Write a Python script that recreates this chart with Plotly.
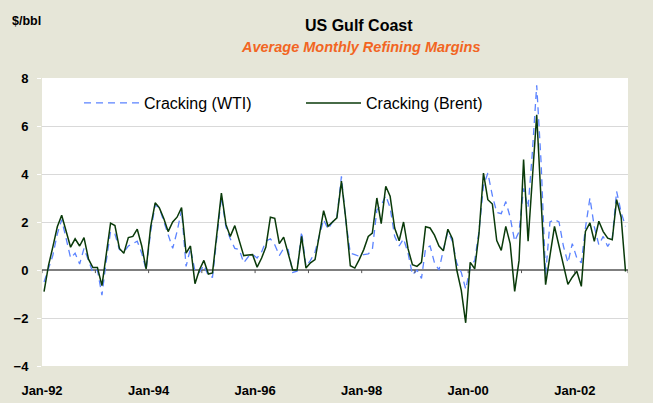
import plotly.graph_objects as go
import pandas as pd

# Monthly dates (mid-month), Jan-92 .. Dec-02
months = pd.date_range("1992-01-01", periods=132, freq="MS") + pd.Timedelta(days=14)

wti = [
    -0.5, 0.1, 0.6, 1.5, 2.1, 1.3, 0.5, 0.7, 0.25, 0.9, 0.35, -0.1,
    0.0, -1.05, 0.3, 1.6, 1.5, 0.85, 0.75, 1.0, 1.1, 1.2, 0.7, 0.0,
    1.6, 2.7, 2.6, 2.0, 1.4, 0.9, 1.6, 2.5, 0.15, 0.9, -0.05, -0.1,
    0.2, -0.25, -0.3, 1.4, 3.05, 1.8, 1.3, 0.9, 0.85, 0.3, 0.55, 0.65,
    0.5, 0.75, 1.2, 1.3, 1.05, 0.6, 0.9, 0.85, -0.1, -0.05, 1.6, 0.15,
    0.4, 0.75, 1.4, 2.1, 1.7, 2.0, 2.2, 3.9, 2.0, 0.7, 0.64, 0.57,
    0.64, 0.67, 0.85, 2.5, 2.7, 3.1, 2.6, 1.4, 1.0, 1.3, 0.7, -0.2,
    0.0, -0.35, 0.9, 1.0, 0.3, 0.0, 0.85, 1.6, 1.2, 0.28, -0.1, -0.8,
    0.1, 0.4, 1.6, 3.5, 4.04, 3.1, 2.4, 2.35, 2.85, 2.2, 1.2, 1.6,
    3.4, 2.6, 4.8, 7.7, 4.5, -0.2, 2.0, 2.1, 2.0, 1.0, 0.3, 1.1,
    0.5, 0.3, 1.75, 3.0, 1.8, 1.05, 1.4, 0.98, 1.3, 3.28, 2.4, 1.82,
]

brent = [
    -0.9, 0.2, 0.95, 1.8, 2.28, 1.55, 0.95, 1.3, 1.0, 1.35, 0.45, 0.1,
    0.1, -0.65, 0.6, 1.95, 1.85, 0.9, 0.7, 1.35, 1.4, 1.7, 1.0, 0.04,
    1.8, 2.8, 2.6, 2.15, 1.6, 2.0, 2.2, 2.6, 0.7, 1.0, -0.57, 0.0,
    0.4, -0.17, -0.12, 1.7, 3.2, 1.9, 1.4, 1.85, 1.25, 0.6, 0.62, 0.64,
    0.12, 0.5, 0.96, 2.2, 2.15, 1.1, 1.37, 0.68, 0.0, 0.0, 1.4, 0.08,
    0.3, 0.43, 1.47, 2.47, 1.82, 2.0, 2.17, 3.7, 2.07, 0.18, 0.08, 0.43,
    0.85, 1.4, 1.54, 3.0, 1.93, 3.49, 3.07, 1.75, 1.22, 2.0, 0.88, 0.22,
    0.15, 0.32, 1.8, 1.75, 1.45, 1.0, 0.8, 1.7, 1.3, 0.0, -0.85, -2.2,
    0.32, 0.05, 1.5, 4.04, 2.93, 2.75, 1.23, 0.82, 1.82, 1.1, -0.89, 0.4,
    4.6, 1.2, 3.9, 6.47, 2.9, -0.61, 0.6, 1.82, 1.0, 0.2, -0.6, -0.3,
    -0.05, -0.68, 1.61, 1.96, 1.19, 2.03, 1.6, 1.33, 1.26, 2.93, 2.2, -0.06,
]

tick_dates = ["1992-01-01", "1994-01-01", "1996-01-01", "1998-01-01", "2000-01-01", "2002-01-01"]
tick_labels = ["Jan-92", "Jan-94", "Jan-96", "Jan-98", "Jan-00", "Jan-02"]
year_ticks = [f"{y}-01-01" for y in range(1992, 2004)]

BG = "#E6E6D8"
FONT = "Liberation Sans, Arial, sans-serif"

W, H = 653, 403
ML, MR, MT, MB = 42, 25, 78, 37
PW, PH = W - ML - MR, H - MT - MB


def px_to_paper(xp, yp):
    return (xp - ML) / PW, (H - MB - yp) / PH


fig = go.Figure()
fig.add_trace(go.Scatter(
    x=months, y=wti, mode="lines", name="Cracking (WTI)",
    line=dict(color="#5B83FF", width=1.3, dash="7px,5px"),
))
fig.add_trace(go.Scatter(
    x=months, y=brent, mode="lines", name="Cracking (Brent)",
    line=dict(color="#0A3A0A", width=1.5),
))

shapes = []
for d in year_ticks:
    shapes.append(dict(type="line", xref="x", yref="y", x0=d, x1=d, y0=0, y1=-0.13,
                       line=dict(color="#555555", width=1)))

tx, ty = px_to_paper(359, 26)
sx, sy = px_to_paper(360, 47)
ux, uy = px_to_paper(26, 21)
lx, ly = px_to_paper(79, 103)

fig.update_layout(
    width=W, height=H,
    paper_bgcolor=BG, plot_bgcolor="white",
    margin=dict(l=ML, r=MR, t=MT, b=MB, autoexpand=False),
    font=dict(family=FONT, color="black"),
    showlegend=True,
    legend=dict(
        orientation="h", x=lx, y=ly, xanchor="left", yanchor="middle",
        font=dict(size=16, family=FONT, color="black"),
        bgcolor="rgba(255,255,255,0)", itemwidth=55, entrywidth=152,
    ),
    shapes=shapes,
    annotations=[
        dict(text="<b>US Gulf Coast</b>", x=tx, y=ty, xref="paper", yref="paper",
             xanchor="center", yanchor="middle",
             showarrow=False, font=dict(size=16, family=FONT)),
        dict(text="<b><i>Average Monthly Refining Margins</i></b>", x=sx, y=sy,
             xref="paper", yref="paper", xanchor="center", yanchor="middle",
             showarrow=False, font=dict(size=14.5, family=FONT, color="#F26522")),
        dict(text="<b>$/bbl</b>", x=ux, y=uy, xref="paper", yref="paper",
             xanchor="center", yanchor="middle",
             showarrow=False, font=dict(size=12.5, family=FONT)),
    ],
)

fig.update_xaxes(
    type="date", range=["1992-01-01", "2003-01-01"],
    tickvals=tick_dates, ticktext=tick_labels,
    showgrid=False, zeroline=False, showline=False, ticks="",
    tickfont=dict(size=13, family=FONT, color="black", weight="bold"),
    ticklabelstandoff=15, automargin=False,
)
fig.update_yaxes(
    range=[-4, 8], tickvals=[-4, -2, 0, 2, 4, 6, 8],
    showgrid=True, gridcolor="#D9D9D9", gridwidth=1,
    zeroline=True, zerolinecolor="#7F7F7F", zerolinewidth=2,
    ticks="outside", ticklen=4, tickcolor="white",
    tickfont=dict(size=13, family=FONT, color="black", weight="bold"),
    ticklabelstandoff=6, showline=False, automargin=False,
)

fig.write_html("out.html", config={"displayModeBar": False})

# remove the default page margin so the figure sits at the window origin
with open("out.html", "r", encoding="utf-8") as f:
    html = f.read()
html = html.replace("<head>", "<head><style>html,body{margin:0;padding:0;overflow:hidden;}</style>", 1)
with open("out.html", "w", encoding="utf-8") as f:
    f.write(html)
